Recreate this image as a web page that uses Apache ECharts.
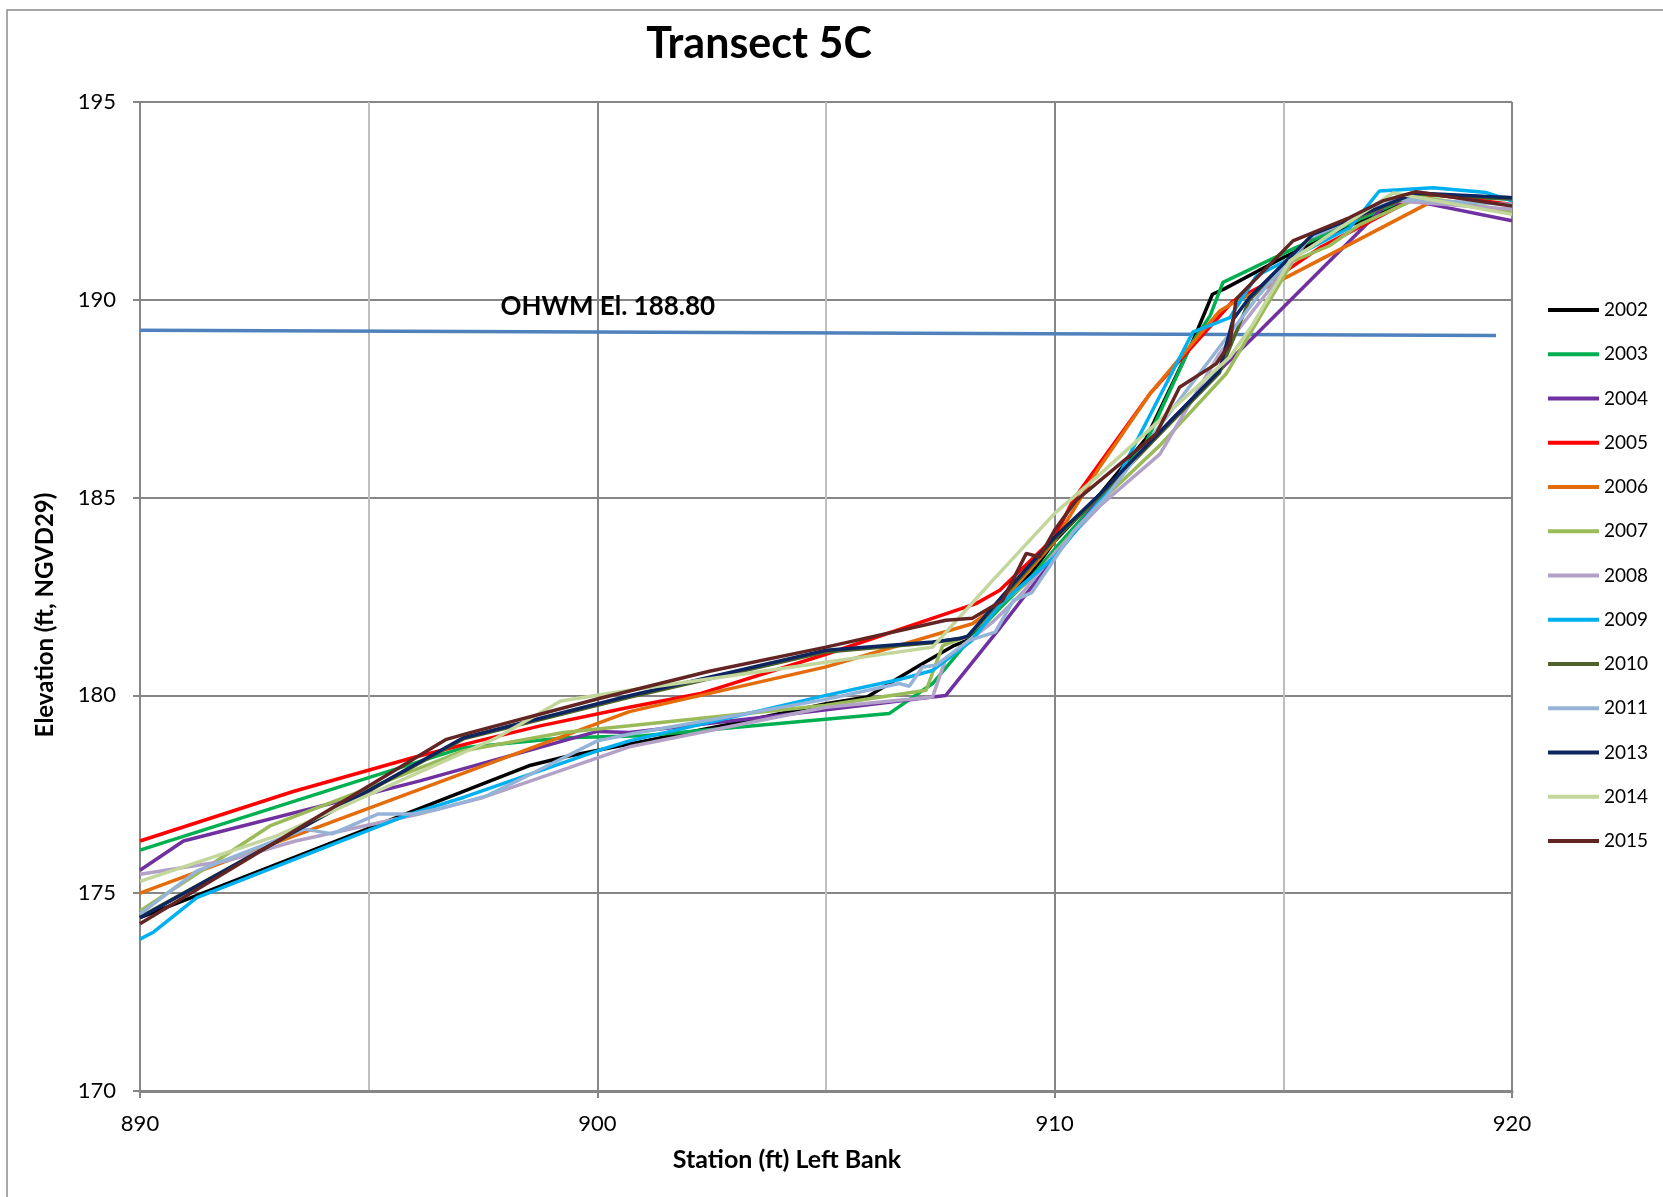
<!DOCTYPE html>
<html>
<head>
<meta charset="utf-8">
<script src="https://cdn.jsdelivr.net/npm/echarts@6/dist/echarts.min.js"></script>
<style>
html,body{margin:0;padding:0;background:#fff;}
#chart{width:1663px;height:1197px;}
</style>
</head>
<body>
<div id="chart"></div>
<script>
const years = ['2002','2003','2004','2005','2006','2007','2008','2009','2010','2011','2013','2014','2015'];
const colors = ['#000000','#00B050','#7030A0','#FF0000','#E46C0A','#9BBB59','#B3A2C7','#00B0F0','#4F6228','#95B3D7','#0E2660','#C3D69B','#632523'];

const xTicks = [890, 900, 910, 920];
const yTicks = [170, 175, 180, 185, 190, 195];

const s2002 = [[890,174.38],[898.5,178.22],[899.3,178.45],[903,179.3],[905,179.79],[905.9,179.96],[906.5,180.38],[907.05,180.76],[907.8,181.26],[908.1,181.4],[908.8,182.3],[909.5,183.1],[910,183.9],[911,185.1],[912,186.5],[913,188.9],[913.45,190.14],[913.7,190.27],[915,191.07],[916.5,191.9],[918,192.66],[920,192.58]];
const s2003 = [[890,176.09],[897.07,178.68],[899.3,178.93],[901,178.98],[906.38,179.54],[907.33,180.3],[908.06,181.3],[908.8,182.2],[909.5,183.0],[910,183.7],[911,185.0],[912,186.4],[913,188.9],[913.4,189.6],[913.68,190.44],[915.2,191.28],[916.5,191.95],[917.9,192.66],[920,192.54]];
const s2004 = [[890,175.58],[890.95,176.32],[896.12,177.84],[900,179.09],[900.7,179.06],[904,179.5],[907.33,179.96],[907.62,180.0],[908.8,181.7],[909.67,183.0],[911.2,185.3],[912.5,186.9],[913.75,188.38],[914.41,189.13],[917.25,192.41],[917.84,192.5],[920,192.0]];
const s2005 = [[890,176.32],[893.35,177.57],[895.98,178.43],[897.4,178.85],[898.75,179.23],[900.7,179.7],[902.23,180.04],[905,181.04],[908.28,182.32],[908.8,182.66],[910,184.0],[910.4,184.93],[912.08,187.62],[913.9,189.97],[914.77,190.5],[915.8,191.32],[917.76,192.5],[918.27,192.66],[920,192.41]];
const s2006 = [[890,175.0],[900.7,179.59],[905,180.72],[908.2,181.81],[908.8,182.3],[910,183.9],[910.98,185.77],[912.08,187.62],[913.61,189.72],[913.97,189.97],[914.77,190.39],[916.45,191.4],[918.27,192.5],[920,192.24]];
const s2007 = [[890,174.55],[892.84,176.7],[895.03,177.67],[897.07,178.6],[899.26,179.06],[900.7,179.23],[905,179.75],[907.19,180.13],[907.55,181.26],[908.1,181.5],[908.8,182.3],[909.6,183.04],[910,183.6],[911,184.9],[912.3,186.32],[913.75,188.13],[915.21,190.98],[916,191.36],[916.67,191.9],[918,192.6],[920,192.24]];
const s2008 = [[890,175.48],[891.9,175.82],[893.4,176.32],[896.1,177.0],[897.5,177.42],[900.7,178.7],[905,179.7],[907.33,179.96],[907.62,180.93],[908.64,181.85],[909.3,182.6],[910,183.6],[911,184.8],[912.3,186.1],[913.6,188.63],[915.58,191.57],[917.5,192.5],[920,192.29]];
const s2009 = [[890,173.84],[890.3,174.02],[891.24,174.89],[895.9,177.0],[897.07,177.42],[900,178.6],[900.7,178.85],[905,180.0],[906.6,180.4],[907.33,180.63],[908.2,181.4],[908.8,182.3],[910,183.5],[911.35,185.44],[913.02,189.18],[913.83,189.55],[914.41,190.6],[916.45,191.82],[917.1,192.75],[918.27,192.83],[919.44,192.71],[920,192.5]];
const s2010 = [[890,174.4],[897.07,178.9],[900.7,179.95],[905,181.1],[907.33,181.33],[908.1,181.48],[909.15,182.85],[910,183.95],[911,185.05],[912.5,186.85],[913.6,188.15],[914.26,190.0],[915.65,191.62],[917.9,192.68],[920,192.55]];
const s2011 = [[890,174.47],[891.24,175.56],[893.6,176.62],[894.2,176.5],[895.2,177.0],[895.98,177.0],[896.5,177.12],[897.58,177.46],[898.53,178.0],[900,178.85],[900.7,179.02],[905,179.9],[906.6,180.3],[906.82,180.23],[907.11,180.72],[907.4,180.76],[908.13,181.39],[908.7,181.6],[909.1,182.4],[909.5,182.6],[910.4,184.13],[911.13,185.02],[912.88,187.7],[914.48,190.14],[915.58,191.57],[917.5,192.55],[920,192.41]];
const s2013 = [[890,174.38],[897.07,178.93],[900.7,179.99],[905,181.14],[907.33,181.35],[907.9,181.43],[908.1,181.5],[909.15,182.9],[910,184.0],[911,185.1],[912.5,186.9],[913.6,188.2],[913.9,189.5],[914.26,190.06],[915.65,191.66],[917.9,192.7],[920,192.58]];
const s2014 = [[890,175.3],[892.99,176.45],[897.8,178.93],[899.2,179.86],[900.7,180.13],[905,180.84],[907.33,181.22],[908.64,182.9],[910,184.6],[911,185.6],[913.83,188.55],[914.34,189.39],[915.14,190.98],[917.4,192.7],[920,192.16]];
const s2015 = [[890,174.23],[896.7,178.89],[897.22,179.06],[900.04,179.92],[902.45,180.61],[905,181.22],[907.62,181.9],[908.2,181.95],[908.86,182.4],[909.38,183.59],[909.67,183.5],[910,184.18],[910.47,184.93],[912.22,186.61],[912.73,187.79],[913.53,188.38],[913.83,188.88],[913.97,190.02],[915.21,191.49],[915.65,191.7],[916.45,192.08],[917.18,192.5],[917.9,192.73],[920,192.37]];

const ohwm = [[890,189.23],[919.65,189.1]];
const ohwmLabel = 'OHWM El. 188.80';
const ohwmLabelAt = [900.23, 189.84];

const seriesData = [s2002,s2003,s2004,s2005,s2006,s2007,s2008,s2009,s2010,s2011,s2013,s2014,s2015];

const FONT = 'Lato, "Open Sans", sans-serif';
const chart = echarts.init(document.getElementById('chart'));

const series = [{
  name: 'OHWM',
  type: 'line',
  data: ohwm,
  showSymbol: false,
  silent: true,
  z: 1,
  lineStyle: {color: '#4F81BD', width: 3.5},
  markPoint: {
    symbol: 'circle', symbolSize: 0,
    data: [{coord: ohwmLabelAt, value: ohwmLabel}],
    label: {show: true, position: 'inside', formatter: ohwmLabel, color: '#000', fontFamily: FONT, fontWeight: 'bold', fontSize: 26}
  }
}];
years.forEach((y, i) => {
  series.push({
    name: y,
    type: 'line',
    data: seriesData[i],
    showSymbol: false,
    z: 2 + i,
    lineStyle: {color: colors[i], width: 3.5},
    itemStyle: {color: colors[i]}
  });
});

chart.setOption({
  animation: false,
  backgroundColor: '#fff',
  title: {
    text: 'Transect 5C',
    left: 754, top: 18, textAlign: 'center',
    textStyle: {fontFamily: FONT, fontWeight: 'bold', fontSize: 43, color: '#000'}
  },
  graphic: [{
    type: 'rect', shape: {x: 7, y: 10, width: 1700, height: 1300},
    style: {fill: 'none', stroke: '#8C8C8C', lineWidth: 1.5}, silent: true, z: -1
  }],
  legend: {
    orient: 'vertical',
    left: 1543, top: 295,
    data: years,
    icon: 'rect',
    itemWidth: 51, itemHeight: 4,
    itemGap: 24.25,
    textStyle: {fontFamily: FONT, fontSize: 19, color: '#000', lineHeight: 20}
  },
  grid: {left: 140, right: 151, top: 102, bottom: 106},
  xAxis: {
    type: 'value', min: 890, max: 920, interval: 10,
    name: 'Station (ft) Left Bank', nameLocation: 'middle', nameGap: 56,
    nameTextStyle: {fontFamily: FONT, fontWeight: 'bold', fontSize: 25, color: '#000', padding: [0, 78, 0, 0]},
    axisLine: {show: true, lineStyle: {color: '#868686', width: 3}},
    axisTick: {show: true, length: 7, lineStyle: {color: '#868686', width: 2}},
    axisLabel: {margin: 22, fontFamily: FONT, fontSize: 22, color: '#000', formatter: v => xTicks.includes(v) ? String(v) : ''},
    splitLine: {show: true, lineStyle: {color: '#868686', width: 2}},
    minorTick: {show: false, splitNumber: 2},
    minorSplitLine: {show: true, lineStyle: {color: '#BFBFBF', width: 2}}
  },
  yAxis: {
    type: 'value', min: 170, max: 195, interval: 5,
    name: 'Elevation (ft, NGVD29)', nameLocation: 'middle', nameGap: 83,
    nameTextStyle: {fontFamily: FONT, fontWeight: 'bold', fontSize: 24, color: '#000', padding: [0, 37, 0, 0]},
    axisLine: {show: true, lineStyle: {color: '#868686', width: 2}},
    axisTick: {show: true, length: 7, lineStyle: {color: '#868686', width: 2}},
    axisLabel: {margin: 24, fontFamily: FONT, fontSize: 22, color: '#000', formatter: v => yTicks.includes(v) ? String(v) : ''},
    splitLine: {show: true, lineStyle: {color: '#868686', width: 2}}
  },
  series: series
});
</script>
</body>
</html>
